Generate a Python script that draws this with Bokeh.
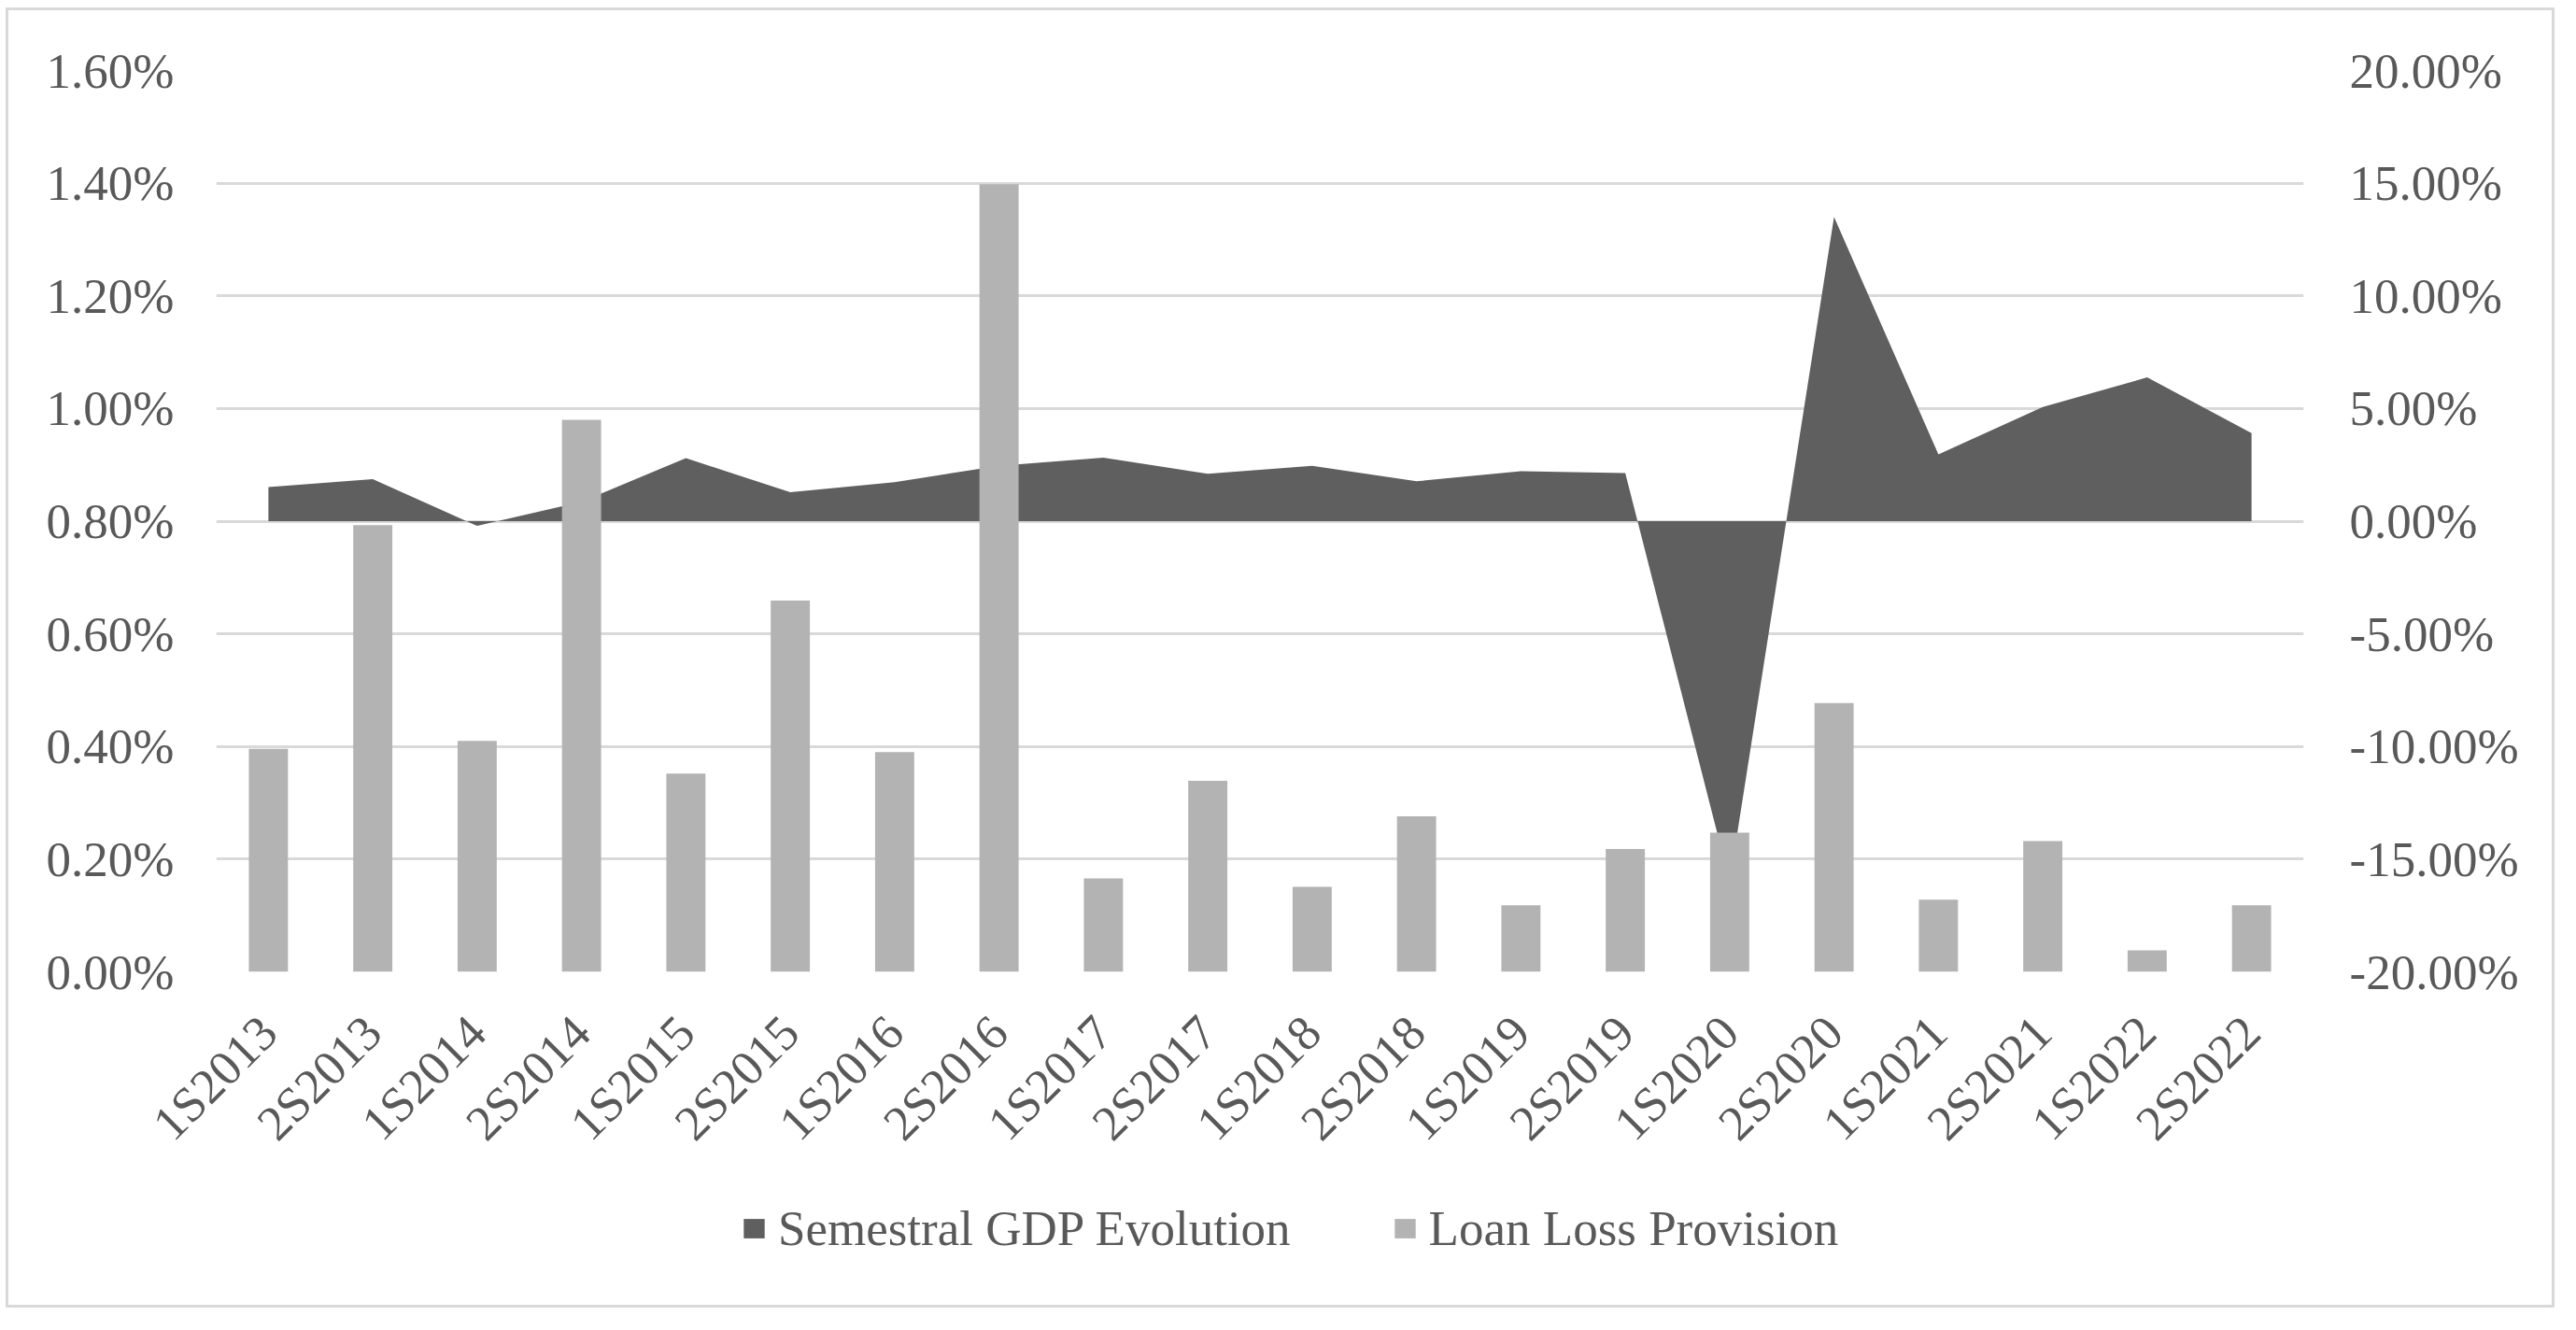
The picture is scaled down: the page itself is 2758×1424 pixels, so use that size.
from bokeh.plotting import figure
from bokeh.layouts import column
from bokeh.models import (FactorRange, Range1d, LinearAxis, FixedTicker,
                          PrintfTickFormatter, Legend, LegendItem)
from bokeh.embed import file_html
from bokeh.resources import INLINE
from bokeh.core.properties import value
from math import pi

semesters = ["1S2013", "2S2013", "1S2014", "2S2014", "1S2015", "2S2015",
             "1S2016", "2S2016", "1S2017", "2S2017", "1S2018", "2S2018",
             "1S2019", "2S2019", "1S2020", "2S2020", "1S2021", "2S2021",
             "1S2022", "2S2022"]

# Loan Loss Provision (%), left axis
loan_loss_provision = [0.396, 0.793, 0.410, 0.980, 0.352, 0.659, 0.390, 1.398,
                       0.166, 0.339, 0.151, 0.276, 0.118, 0.218, 0.247, 0.477,
                       0.128, 0.232, 0.038, 0.118]

# Semestral GDP Evolution (%), right axis
gdp_evolution = [1.51, 1.87, -0.21, 0.86, 2.80, 1.28, 1.73, 2.46, 2.82, 2.10,
                 2.46, 1.77, 2.22, 2.13, -16.0, 13.5, 2.96, 5.07, 6.38, 3.91]

left_ticks = [0.0, 0.2, 0.4, 0.6, 0.8, 1.0, 1.2, 1.4, 1.6]
right_ticks = [-20, -15, -10, -5, 0, 5, 10, 15, 20]

series_names = ["Semestral GDP Evolution", "Loan Loss Provision"]
series_colors = ["#5f5f5f", "#b3b3b3"]

FONT = "Liberation Serif"
TXT = "#595959"
FS = "53px"
W = 2723

xr = FactorRange(factors=semesters, range_padding=0)
p = figure(x_range=xr, y_range=Range1d(0, 1.6),
           width=W, height=1386,
           output_backend="svg", toolbar_location=None,
           min_border_left=222, min_border_right=266,
           min_border_top=64, min_border_bottom=357,
           background_fill_color="white", border_fill_color="white")
p.outline_line_color = None
p.extra_y_ranges = {"gdp": Range1d(-20, 20)}

area = p.varea(x=semesters, y1=0, y2=gdp_evolution, fill_color=series_colors[0],
               y_range_name="gdp")
bars = p.vbar(x=semesters, top=loan_loss_provision, width=0.375,
              fill_color=series_colors[1], line_color=None)

# grid
p.xgrid.visible = False
p.ygrid.ticker = FixedTicker(ticks=left_ticks)
p.ygrid.grid_line_color = "#d9d9d9"
p.ygrid.grid_line_width = 3

# left axis
la = p.yaxis[0]
la.ticker = FixedTicker(ticks=left_ticks)
la.formatter = PrintfTickFormatter(format="%.2f%%")

# right axis
ra = LinearAxis(y_range_name="gdp", ticker=FixedTicker(ticks=right_ticks),
                formatter=PrintfTickFormatter(format="%.2f%%"))
p.add_layout(ra, "right")

for ax in (la, ra):
    ax.axis_line_color = None
    ax.major_tick_line_color = None
    ax.minor_tick_line_color = None
    ax.major_tick_out = 0
    ax.major_label_text_font = FONT
    ax.major_label_text_font_size = FS
    ax.major_label_text_color = TXT
la.major_label_standoff = 45
ra.major_label_standoff = 49

xa = p.xaxis[0]
xa.axis_line_color = None
xa.major_tick_line_color = None
xa.minor_tick_line_color = None
xa.major_tick_out = 0
xa.major_label_orientation = pi / 4
xa.major_label_text_font = FONT
xa.major_label_text_font_size = FS
xa.major_label_text_color = TXT
xa.major_label_standoff = 56

# legend strip, drawn in its own small canvas that overlaps the bottom of the chart
lf = figure(width=W, height=142, x_range=xr, y_range=Range1d(1000, 1001),
            output_backend="svg", toolbar_location=None,
            x_axis_location=None, y_axis_location=None, min_border=0,
            margin=(-142, 0, 0, 0),
            background_fill_alpha=0, border_fill_alpha=0)
lf.grid.visible = False
lf.outline_line_color = None
g_area = lf.varea(x=semesters, y1=0, y2=gdp_evolution, fill_color=series_colors[0])
g_bar = lf.vbar(x=semesters, top=loan_loss_provision, width=0.375,
                fill_color=series_colors[1], line_color=None)

legend = Legend(items=[LegendItem(label=value(series_names[0]), renderers=[g_area]),
                       LegendItem(label=value(series_names[1]), renderers=[g_bar])],
                orientation="horizontal", location=(562, 52),
                glyph_width=28, glyph_height=26, label_standoff=12, spacing=108,
                padding=0, margin=0, border_line_color=None,
                background_fill_alpha=0,
                label_text_font=FONT, label_text_font_size=FS,
                label_text_color=TXT)
lf.add_layout(legend)

page = column(p, lf, styles={"border": "3px solid #d9d9d9",
                             "margin-left": "6px", "margin-top": "8px"})

open("out.html", "w").write(file_html(page, INLINE))
